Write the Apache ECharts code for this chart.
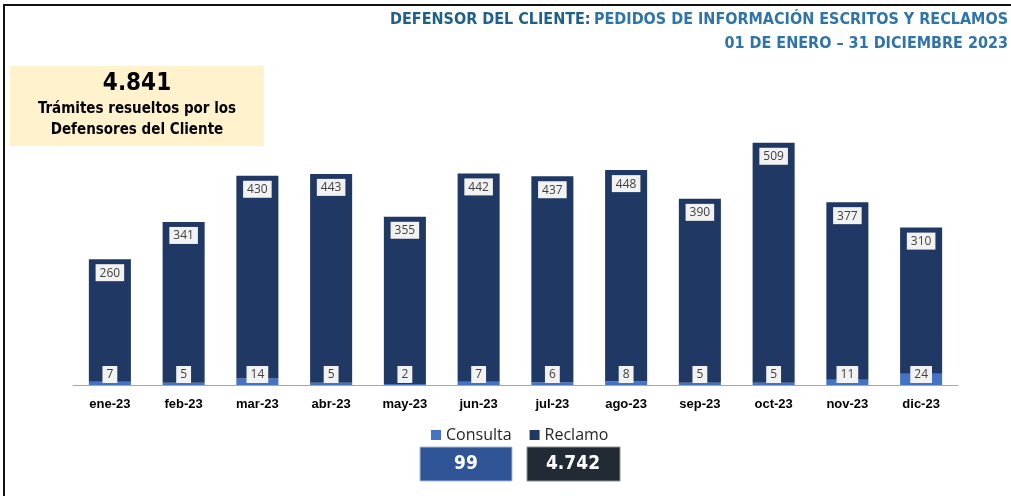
<!DOCTYPE html>
<html>
<head>
<meta charset="utf-8">
<script src="https://cdn.jsdelivr.net/npm/echarts@6/dist/echarts.min.js"></script>
<style>
  html, body { margin: 0; padding: 0; background: #fff; }
  #chart { width: 1011px; height: 496px; }
</style>
</head>
<body>
<div id="chart"></div>
<script>
  // datos del gráfico
  var meses = ['ene-23', 'feb-23', 'mar-23', 'abr-23', 'may-23', 'jun-23', 'jul-23', 'ago-23', 'sep-23', 'oct-23', 'nov-23', 'dic-23'];
  var consulta = [7, 5, 14, 5, 2, 7, 6, 8, 5, 5, 11, 24];
  var reclamo = [260, 341, 430, 443, 355, 442, 437, 448, 390, 509, 377, 310];

  function suma(arr) {
    return arr.reduce(function (a, b) { return a + b; }, 0);
  }
  // formato con punto de miles
  function fmt(n) {
    return String(n).replace(/\B(?=(\d{3})+(?!\d))/g, '.');
  }

  var totConsulta = suma(consulta);
  var totReclamo = suma(reclamo);
  var total = totConsulta + totReclamo;

  var condensada = '"DejaVu Sans Condensed", Roboto, sans-serif';

  var labelBox = {
    show: true,
    color: '#404040',
    fontSize: 12,
    fontFamily: 'Open Sans',
    backgroundColor: '#f2f2f2',
    padding: [3, 4, 2, 4]
  };

  var chart = echarts.init(document.getElementById('chart'));

  var option = {
    backgroundColor: '#ffffff',
    animation: false,
    grid: { left: 73, right: 53, top: 8, bottom: 111 },
    legend: {
      data: ['Consulta', 'Reclamo'],
      left: 426,
      top: 422,
      icon: 'rect',
      itemWidth: 10,
      itemHeight: 10,
      itemGap: 18,
      itemStyle: { borderWidth: 0 },
      textStyle: { fontSize: 16, fontFamily: 'Open Sans', color: '#262626', padding: [0, 0, 0, 0] }
    },
    xAxis: {
      type: 'category',
      data: meses,
      axisTick: { show: false },
      axisLine: { lineStyle: { color: '#a6a6a6', width: 1 } },
      axisLabel: {
        color: '#000',
        fontWeight: 'bold',
        fontSize: 13,
        fontFamily: 'Liberation Sans',
        margin: 13
      }
    },
    yAxis: {
      type: 'value',
      min: 0,
      max: 800,
      show: false,
      splitLine: { show: false }
    },
    series: [
      {
        name: 'Consulta',
        type: 'bar',
        stack: 'total',
        data: consulta,
        barCategoryGap: '43%',
        itemStyle: { color: '#4472c4' },
        label: Object.assign({}, labelBox, { position: 'insideBottom', distance: 2 })
      },
      {
        name: 'Reclamo',
        type: 'bar',
        stack: 'total',
        data: reclamo,
        barCategoryGap: '43%',
        itemStyle: { color: '#203864' },
        label: Object.assign({}, labelBox, { position: 'insideTop', distance: 5 })
      }
    ],
    graphic: [
      // marco
      {
        type: 'rect',
        shape: { x: 4, y: 5, width: 1030, height: 520 },
        style: { fill: 'none', stroke: '#111', lineWidth: 2 },
        silent: true
      },
      // título
      {
        type: 'text',
        right: 3,
        top: 12,
        style: {
          text: '{a|DEFENSOR DEL CLIENTE:} {b|PEDIDOS DE INFORMACIÓN ESCRITOS Y RECLAMOS}',
          rich: {
            a: { fontSize: 16, fontWeight: 'bold', fontFamily: condensada, fill: '#1f5f8b' },
            b: { fontSize: 16, fontWeight: 'bold', fontFamily: condensada, fill: '#2e74a8' }
          }
        }
      },
      {
        type: 'text',
        right: 3,
        top: 36,
        style: {
          text: '01 DE ENERO – 31 DICIEMBRE 2023',
          fontSize: 16,
          fontWeight: 'bold',
          fontFamily: condensada,
          fill: '#2e74a8'
        }
      },
      // recuadro total
      {
        type: 'rect',
        shape: { x: 10, y: 66, width: 254, height: 80 },
        style: { fill: '#fff2cc' },
        silent: true
      },
      {
        type: 'text',
        x: 137,
        y: 84,
        style: {
          text: fmt(total),
          fontSize: 24,
          fontWeight: 'bold',
          fontFamily: condensada,
          fill: '#000',
          align: 'center',
          verticalAlign: 'middle'
        }
      },
      {
        type: 'text',
        x: 137,
        y: 120,
        style: {
          text: 'Trámites resueltos por los\nDefensores del Cliente',
          fontSize: 15,
          lineHeight: 21,
          fontWeight: 'bold',
          fontFamily: condensada,
          fill: '#000',
          align: 'center',
          verticalAlign: 'middle'
        }
      },
      // totales por tipo
      {
        type: 'rect',
        shape: { x: 420, y: 447, width: 92, height: 34 },
        style: { fill: '#2f5597', stroke: '#a9b8d6', lineWidth: 1 },
        silent: true
      },
      {
        type: 'text',
        x: 466,
        y: 464,
        style: {
          text: fmt(totConsulta),
          fontSize: 19,
          fontWeight: 'bold',
          fontFamily: condensada,
          fill: '#fff',
          align: 'center',
          verticalAlign: 'middle'
        }
      },
      {
        type: 'rect',
        shape: { x: 527, y: 447, width: 93, height: 34 },
        style: { fill: '#222a35', stroke: '#8a8f96', lineWidth: 1 },
        silent: true
      },
      {
        type: 'text',
        x: 573,
        y: 464,
        style: {
          text: fmt(totReclamo),
          fontSize: 19,
          fontWeight: 'bold',
          fontFamily: condensada,
          fill: '#fff',
          align: 'center',
          verticalAlign: 'middle'
        }
      }
    ]
  };

  chart.setOption(option);

  window.addEventListener('resize', function () {
    chart.resize();
  });
</script>
</body>
</html>
